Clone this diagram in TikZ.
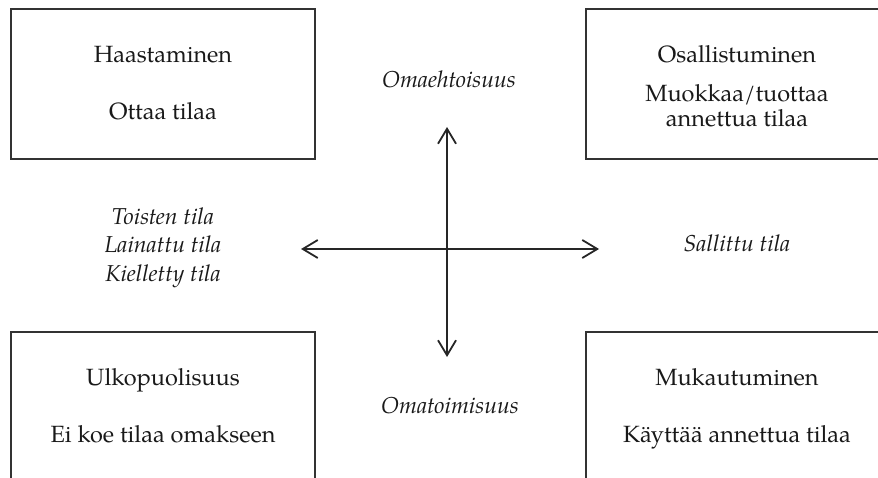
\documentclass[tikz,border=0pt]{standalone}
\usepackage{fontspec}
\setmainfont{texgyrepagella}[Extension=.otf, UprightFont=*-regular, ItalicFont=*-italic, BoldFont=*-bold, BoldItalicFont=*-bolditalic]
\usetikzlibrary{arrows.meta}
\begin{document}
\begin{tikzpicture}[x=1pt, y=-1pt,
  quadbox/.style={draw=black!80, line width=1.6pt, minimum width=304pt, minimum height=150pt, inner sep=0pt, anchor=north west},
  boxtext/.style={anchor=base, inner sep=0pt, font=\fontsize{23.5}{25}\selectfont, align=center, text=black!90},
  axislabel/.style={anchor=base, inner sep=0pt, font=\fontsize{23}{28.5}\selectfont\itshape, align=center, text=black!90},
  axis/.style={line width=1.8pt, draw=black!85, {Straight Barb[length=15pt, width=18pt, line width=1.8pt]}-{Straight Barb[length=15pt, width=18pt, line width=1.8pt]}}]
  \useasboundingbox (0,0) rectangle (878,478);
  \clip (0,0) rectangle (878,478);

  % four quadrant boxes (the right and lower ones run off the page)
  \node[quadbox] (hq) at (10,8) {};
  \node[quadbox] (oq) at (585,8) {};
  \node[quadbox] (uq) at (10,331) {};
  \node[quadbox] (mq) at (585,331) {};

  % box captions
  \node[boxtext] (ht) at (163,63) {Haastaminen};
  \node[boxtext] (hs) at (163,120) {Ottaa tilaa};
  \node[boxtext] (ot) at (737,63) {Osallistuminen};
  \node[boxtext, anchor=north] (os) at (737,84) {Muokkaa/tuottaa\\annettua tilaa};
  \node[boxtext] (ut) at (163,385) {Ulkopuolisuus};
  \node[boxtext] (us) at (163,442) {Ei koe tilaa omakseen};
  \node[boxtext] (mt) at (737,385) {Mukautuminen};
  \node[boxtext] (ms) at (737,442) {Käyttää annettua tilaa};

  % axis ends
  \coordinate (up) at (447,127);
  \coordinate (down) at (447,357);
  \coordinate (left) at (301,249);
  \coordinate (right) at (599,249);
  \draw[axis] (up) -- (down);
  \draw[axis] (left) -- (right);

  % axis labels
  \node[axislabel] (ae) at (449,88) {Omaehtoisuus};
  \node[axislabel] (at) at (450,413) {Omatoimisuus};
  \node[axislabel] (sl) at (737,252) {Sallittu tila};
  \node[axislabel, anchor=north] (tl) at (163,207) {Toisten tila\\Lainattu tila\\Kielletty tila};
\end{tikzpicture}
\end{document}
